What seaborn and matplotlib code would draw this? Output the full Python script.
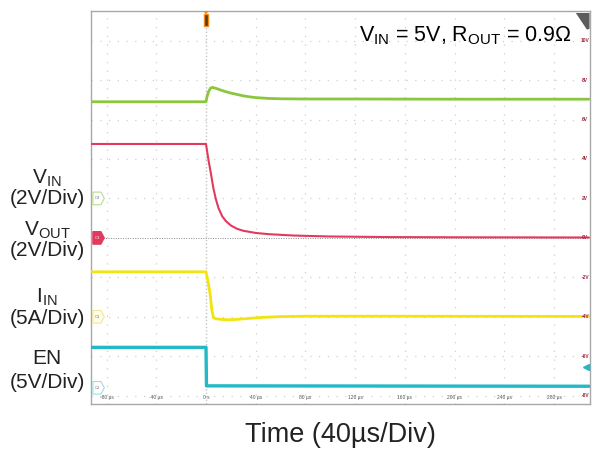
import matplotlib
matplotlib.use('Agg')
import matplotlib.pyplot as plt
import seaborn as sns
import pandas as pd
from matplotlib.patches import Polygon

# scope traces, time in µs, level in screen volts (2V per division grid)
vin_t = [-92, 0, 0.8, 2, 3.5, 5, 8, 12, 16, 20, 25, 30, 35, 40, 50, 60, 80, 120, 200, 308]
vin_v = [6.9, 6.9, 7.15, 7.4, 7.58, 7.63, 7.58, 7.49, 7.41, 7.34, 7.27, 7.2, 7.15, 7.11,
         7.07, 7.05, 7.04, 7.04, 7.03, 7.03]

vout_t = [-92, 0, 1, 2, 3, 4, 6, 8, 10, 13, 16, 20, 25, 30, 40, 50, 70, 100, 150, 200, 308]
vout_v = [4.76, 4.76, 4.35, 3.95, 3.6, 3.25, 2.5, 1.95, 1.52, 1.1, 0.85, 0.63, 0.46, 0.36,
          0.25, 0.19, 0.12, 0.07, 0.04, 0.03, 0.02]

iin_t = [-92, 0, 0.8, 2, 3.2, 4.6, 6, 8, 12, 18, 25, 35, 45, 60, 80, 150, 308]
iin_v = [-1.72, -1.72, -1.95, -2.35, -2.8, -3.6, -4.05, -4.1, -4.13, -4.15, -4.13, -4.08,
         -4.03, -3.99, -3.97, -3.97, -3.98]

en_t = [-92, 0, 0.4, 308]
en_v = [-5.55, -5.55, -7.5, -7.52]

time_ticks = [-80, -40, 0, 40, 80, 120, 160, 200, 240, 280]
time_labels = ['-80 µs', '-40 µs', '0 s', '40 µs', '80 µs', '120 µs', '160 µs',
               '200 µs', '240 µs', '280 µs']
volt_ticks = [10, 8, 6, 4, 2, 0, -2, -4, -6, -8]
volt_labels = ['10V', '8V', '6V', '4V', '2V', '0V', '-2V', '-4V', '-6V', '-8V']

channel_names = ['C4', 'C3', 'C1', 'C2']
channel_levels = [2.0, 0.0, -4.0, -7.6]

sns.set_style('white')
plt.rcParams['font.family'] = ['Liberation Sans', 'DejaVu Sans']
plt.rcParams['mathtext.fontset'] = 'custom'
plt.rcParams['mathtext.rm'] = 'Liberation Sans'

W, H = 592, 449
fig = plt.figure(figsize=(W / 100, H / 100), dpi=100)
ax = fig.add_axes([91 / W, 1 - 404 / H, (590 - 91) / W, (404 - 11) / H])

# grid
for t in time_ticks:
    if t == 0:
        continue
    ax.axvline(t, color='#cfcfcf', lw=0.9, ls=(0, (1, 6)), zorder=0)
for v in volt_ticks:
    if v == 0:
        continue
    ax.axhline(v, color='#cfcfcf', lw=0.9, ls=(0, (1, 6)), zorder=0)
ax.axvline(0, color='#c4c4c4', lw=1.0, ls=(0, (1, 1.5)), zorder=0)
ax.axhline(0, color='#8a8a8a', lw=0.7, ls=(0, (1, 1.5)), zorder=0)

traces = [
    (vin_t, vin_v, '#8CC63F', 2.0),
    (vout_t, vout_v, '#E23A5E', 1.5),
    (iin_t, iin_v, '#F2E40C', 2.0),
    (en_t, en_v, '#22B8C6', 2.4),
]
for t, v, c, lw in traces:
    df = pd.DataFrame({'t': t, 'v': v})
    sns.lineplot(data=df, x='t', y='v', ax=ax, color=c, linewidth=lw, sort=False,
                 estimator=None, zorder=3)

ax.set_xlim(-92.5, 308.9)
ax.set_ylim(-8.42, 11.5)
ax.set_xticks([])
ax.set_yticks([])
ax.set_xlabel('')
ax.set_ylabel('')
for s in ax.spines.values():
    s.set_color('#a8a8a8')
    s.set_linewidth(1.0)

# small scope annotations
for t, lab in zip(time_ticks, time_labels):
    ax.text(t, -8.1, lab, fontsize=3.5, ha='center', va='center', color='#555555')
for v, lab in zip(volt_ticks, volt_labels):
    ax.text(305, v, lab, fontsize=3.5, ha='center', va='center', color='#A0283C',
            fontweight='bold')

tag_styles = {'C4': ('white', '#B8DC90'), 'C3': ('#E23A5E', '#E23A5E'),
              'C1': ('#FFFDE8', '#F0E890'), 'C2': ('white', '#9ADFE6')}
for name, lvl in zip(channel_names, channel_levels):
    fc, ec = tag_styles[name]
    ax.add_patch(Polygon([(-91, lvl - 0.32), (-84.5, lvl - 0.32), (-81.8, lvl),
                          (-84.5, lvl + 0.32), (-91, lvl + 0.32)],
                         closed=True, fc=fc, ec=ec, lw=0.8, zorder=5))
    ax.text(-87.2, lvl, name, fontsize=3, ha='center', va='center',
            color='white' if name == 'C3' else '#777777', zorder=6)

# trigger position marker
ax.add_patch(Polygon([(-1.8, 11.35), (1.8, 11.35), (1.8, 10.75), (-1.8, 10.75)],
                     closed=True, fc='#5a3a10', ec='#F08C1E', lw=1.0, zorder=6))
ax.add_patch(Polygon([(-2.2, 11.5), (2.2, 11.5), (0, 11.32)], closed=True,
                     fc='#F08C1E', ec='none', zorder=6))
# trigger level arrow
ax.plot([305.5], [-6.53], marker='<', ms=4.5, color='#22B8C6', zorder=6)
# corner tab
ax.add_patch(Polygon([(297.5, 11.4), (308.5, 11.4), (308.5, 10.6), (306.5, 10.55)],
                     closed=True, fc='#5c5c5c', ec='none', zorder=6))

fig.text(572 / W, 1 - 41 / H, r'V$_{\mathrm{IN}}$ = 5V, R$_{\mathrm{OUT}}$ = 0.9Ω',
         fontsize=15.5, ha='right', va='baseline', color='black')

left_labels = [
    (r'V$_{\mathrm{IN}}$', 178), ('(2V/Div)', 199),
    (r'V$_{\mathrm{OUT}}$', 230), ('(2V/Div)', 251),
    (r'I$_{\mathrm{IN}}$', 297), ('(5A/Div)', 318),
    ('EN', 359), ('(5V/Div)', 383),
]
for txt, ypx in left_labels:
    fig.text(47 / W, 1 - ypx / H, txt, fontsize=15, ha='center', va='center',
             color='#222222')

fig.text(340 / W, 1 - 435 / H, 'Time (40µs/Div)', fontsize=19.5, ha='center',
         va='center', color='#222222')

fig.savefig('out.png', dpi=100)
